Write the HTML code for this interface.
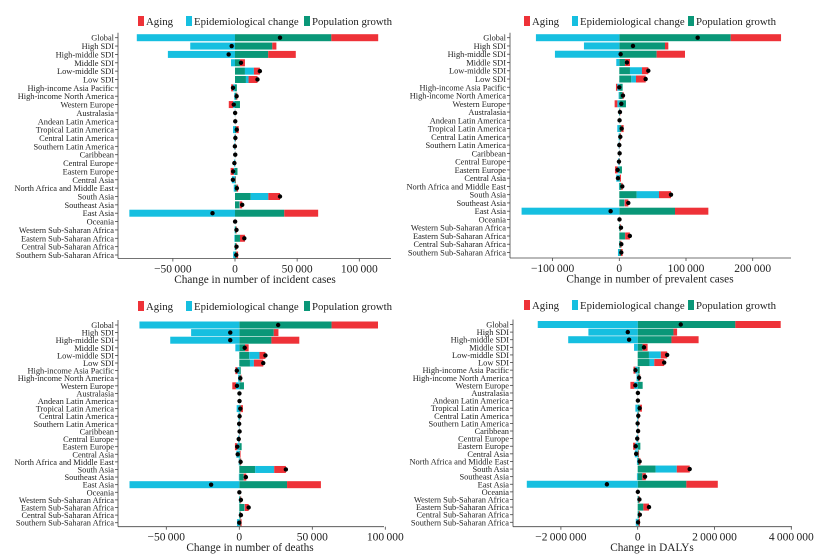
<!DOCTYPE html>
<html><head><meta charset="utf-8"><style>
html,body{margin:0;padding:0;background:#fff;}
svg{display:block;font-family:"Liberation Serif",serif;}
</style></head><body>
<svg id="chart" width="830" height="558" viewBox="0 0 830 558"></svg>
<script>
const regions = ["Global","High SDI","High-middle SDI","Middle SDI","Low-middle SDI","Low SDI","High-income Asia Pacific","High-income North America","Western Europe","Australasia","Andean Latin America","Tropical Latin America","Central Latin America","Southern Latin America","Caribbean","Central Europe","Eastern Europe","Central Asia","North Africa and Middle East","South Asia","Southeast Asia","East Asia","Oceania","Western Sub-Saharan Africa","Eastern Sub-Saharan Africa","Central Sub-Saharan Africa","Southern Sub-Saharan Africa"];
// values in thousands
const incPop   = [77.5,30,26.7,4,8,8.8,1.5,1.2,4,0.2,0.1,1,0.5,0.2,0.2,0.2,2,0.5,1.5,12.6,3.5,39.6,0.1,1,4,1,1];
const incEpi   = [-79,-36,-54,-3.2,7.2,2.1,-1.5,-0.6,-1.5,-0.2,0,-1.6,-0.5,-0.5,-0.1,-0.8,-1,-2.5,-1,14.2,0.3,-85,0,-0.3,-0.5,-0.3,-1.5];
const incAging = [37.7,3.3,22.2,4,4.8,7.2,-1.6,0.7,-3.5,0.1,0.1,2,0.3,0.2,0.1,0.1,-2.5,0.3,1,9.4,2,27.3,0,0.5,4,0.5,1.5];
const prevPop   = [167,68.5,56,8.5,16,18,5,5,10,1,0.3,3,1.5,0.5,0.5,0.5,4,1,3,26,7.5,83.5,0.2,1.5,8.5,1.8,2.5];
const prevEpi   = [-125,-53,-96.5,-4.5,18,7,-3,-1,-3,-0.5,0,-3,-1,-1,-0.3,-1.5,-2.5,-4.5,-0.5,33.5,0.5,-146.5,0,0,0.3,-0.2,-2];
const prevAging = [75.5,5,42.5,7.5,9.5,14.5,-2,1.5,-4,0.5,0.1,3.5,1,0.5,0.3,0.5,-4,1.5,2,18,5.5,50,0.1,1,7,1.4,2.5];
const dthPop   = [63.2,23.6,22,3.9,6.8,7.3,1,1,3.2,0.1,0.1,1,0.5,0.2,0.2,0.2,1.6,0.5,0.8,10.9,3,32.7,0.05,0.8,3.4,0.8,0.8];
const dthEpi   = [-68.4,-33,-47.3,-2.7,7,2.7,-1.3,-0.8,-2.3,0,0,-1.8,-0.6,-0.5,-0.1,-0.8,-1.4,-2,-0.4,13,-0.3,-75.2,0,-0.2,0.3,-0.1,-1.6];
const dthAging = [31.8,3.2,19.1,2.5,4.1,6.4,-1.4,0.5,-2.5,0,0.05,1.5,0.3,0.2,0.1,0.2,-1.6,0.4,0.5,8,1.8,23.2,0,0.5,2.7,0.4,0.8];
const dalyPop   = [2543,931,879,129,293,310,52,40,129,5,3,55,20,10,8,10,69,20,40,466,121,1267,3,30,147,35,30];
const dalyEpi   = [-2603,-1284,-1810,-95,310,121,-60,-30,-90,-3,0,-60,-20,-20,-3,-30,-60,-75,-20,552,-20,-2888,0,-5,0,-5,-50];
const dalyAging = [1181,95,707,129,164,259,-50,25,-100,3,2,55,15,8,5,8,-60,15,30,336,90,819,1,20,147,25,30];
const incTicks  = [-50000,0,50000,100000];
const prevTicks = [-100000,0,100000,200000];
const dthTicks  = [-50000,0,50000,100000];
const dalyTicks = [-2000000,0,2000000,4000000];

const NS="http://www.w3.org/2000/svg";
const svg=document.getElementById('chart');
const C={aging:"#ee3238",epi:"#16bfe0",pop:"#0a9778"};
function mk(tag,attrs,parent){const e=document.createElementNS(NS,tag);for(const k in attrs)e.setAttribute(k,attrs[k]);(parent||svg).appendChild(e);return e;}
function fmt(v){const s=Math.abs(v).toString().replace(/\B(?=(\d{3})+(?!\d))/g,"\u2009");return (v<0?"\u2212":"")+s;}

function panel(cfg,pop,epi,aging,ticks){
  const g=mk('g',{});
  
  
  const sx=v=>cfg.zero+v*cfg.scale; // v in thousands
  const n=regions.length, step=(cfg.yLast-cfg.yFirst)/(n-1);
  const yr=i=>cfg.yFirst+i*step;
  const leg=[["Aging",C.aging,cfg.legX[0]],["Epidemiological change",C.epi,cfg.legX[1]],["Population growth",C.pop,cfg.legX[2]]];
  leg.forEach(l=>{
    const r=mk('rect',{x:l[2],y:cfg.legY-5,width:6,height:10,fill:l[1]},g);
    
    
    const t=mk('text',{x:l[2]+8,y:cfg.legY+4,'font-size':10.8,fill:'#222'},g);
    t.textContent=l[0];
    
    
  });
  for(let i=0;i<n;i++){
    const y=yr(i);
    let posAcc=0,negAcc=0;
    const parts=[[pop[i],C.pop,'pop'],[epi[i],C.epi,'epi'],[aging[i],C.aging,'aging']];
    parts.forEach(p=>{ if(p[0]>0){const x1=sx(posAcc),x2=sx(posAcc+p[0]);posAcc+=p[0];
      const r=mk('rect',{x:x1,y:y-3.5,width:x2-x1,height:7,fill:p[1]},g);
      
      }});
    [parts[1],parts[2],parts[0]].forEach(p=>{ if(p[0]<0){const x1=sx(negAcc+p[0]),x2=sx(negAcc);negAcc+=p[0];
      const r=mk('rect',{x:x1,y:y-3.5,width:x2-x1,height:7,fill:p[1]},g);
      
      }});
    const net=pop[i]+epi[i]+aging[i];
    const d=mk('circle',{cx:sx(net),cy:y,r:2.2,fill:'#000'},g);
    
    
    const lb=mk('text',{x:cfg.axL-4,y:y+3,'font-size':8.4,'text-anchor':'end',fill:'#222'},g);
    lb.textContent=regions[i];
    
    
    mk('line',{x1:cfg.axL-3,x2:cfg.axL,y1:y,y2:y,stroke:'#444','stroke-width':0.8},g);
  }
  const ya=mk('line',{x1:cfg.axL,x2:cfg.axL,y1:cfg.yFirst-5,y2:cfg.axY,stroke:'#444','stroke-width':0.8},g);
  
  
  const xa=mk('line',{x1:cfg.axL,x2:cfg.axR,y1:cfg.axY,y2:cfg.axY,stroke:'#444','stroke-width':0.8},g);
  
  
  ticks.forEach(t=>{
    const x=sx(t/1000);
    mk('line',{x1:x,x2:x,y1:cfg.axY,y2:cfg.axY+3,stroke:'#444','stroke-width':0.8},g);
    const tl=mk('text',{x:x,y:cfg.axY+14,'font-size':11.5,'text-anchor':'middle',fill:'#222'},g);
    tl.textContent=fmt(t);
    
    
  });
  const tt=mk('text',{x:cfg.titleX,y:cfg.axY+24.5,'font-size':11.3,'text-anchor':'middle',fill:'#222'},g);
  tt.textContent=cfg.title;
  
  
}

panel({name:'incident-panel',zero:235,scale:1.243,axL:118,axR:391,axY:258.5,yFirst:37.7,yLast:255,legY:21,legX:[138,186,304],titleX:255,title:"Change in number of incident cases"},incPop,incEpi,incAging,incTicks);
panel({name:'prevalent-panel',zero:619.3,scale:0.667,axL:510,axR:791,axY:258,yFirst:37.7,yLast:252.5,legY:21,legX:[524,572,688],titleX:650,title:"Change in number of prevalent cases"},prevPop,prevEpi,prevAging,prevTicks);
panel({name:'deaths-panel',zero:239.3,scale:1.46,axL:118,axR:384,axY:526.7,yFirst:325,yLast:522.7,legY:306,legX:[138,186,304],titleX:250,title:"Change in number of deaths"},dthPop,dthEpi,dthAging,dthTicks);
panel({name:'dalys-panel',zero:637.7,scale:0.0384,axL:513,axR:792,axY:526.7,yFirst:324.5,yLast:522.3,legY:305,legX:[524,572,688],titleX:652,title:"Change in DALYs"},dalyPop,dalyEpi,dalyAging,dalyTicks);
</script>
</body></html>
